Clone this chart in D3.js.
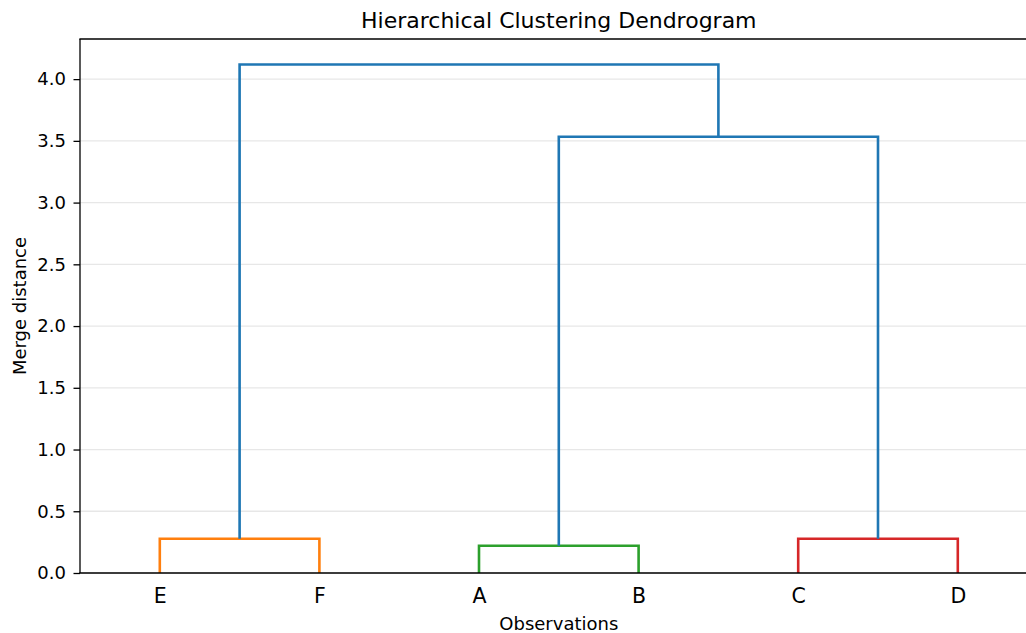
<!DOCTYPE html>
<html>
<head>
<meta charset="utf-8">
<script src="https://cdn.jsdelivr.net/npm/d3@7"></script>
<style>
  html, body { margin: 0; padding: 0; background: #fff; }
  svg { display: block; font-family: "DejaVu Sans", sans-serif; }
</style>
</head>
<body>
<svg id="chart" width="1026" height="633"></svg>
<script>
// Leaf order along the x axis
const leaves = ["E", "F", "A", "B", "C", "D"];

// Merge steps: children are leaf names or earlier merge ids ("m0", "m1", ...)
const mergeLeft   = ["E",     "A",     "C",     "m1",    "m0"];
const mergeRight  = ["F",     "B",     "D",     "m2",    "m3"];
const mergeHeight = [0.278,   0.221,   0.278,   3.533,   4.119];
const mergeColor  = ["#ff7f0e", "#2ca02c", "#d62728", "#1f77b4", "#1f77b4"];

const yTicks = [0.0, 0.5, 1.0, 1.5, 2.0, 2.5, 3.0, 3.5, 4.0];

const svg = d3.select("#chart");
const plotLeft = 80, plotTop = 39, plotBottom = 573, plotRight = 1037.6;
const leafSpacing = 10;
const xMax = leaves.length * leafSpacing;
const yMax = d3.max(mergeHeight) * 1.05;

const x = d3.scaleLinear().domain([0, xMax]).range([plotLeft, plotRight]);
const y = d3.scaleLinear().domain([0, yMax]).range([plotBottom, plotTop]);

// Gridlines
svg.append("g")
  .selectAll("line")
  .data(yTicks)
  .join("line")
  .attr("x1", plotLeft).attr("x2", 1026)
  .attr("y1", d => y(d)).attr("y2", d => y(d))
  .attr("stroke", "#b0b0b0")
  .attr("stroke-opacity", 0.3)
  .attr("stroke-width", 1.3);

// Resolve node positions, then build the U-shaped links
const pos = {};
leaves.forEach((name, i) => { pos[name] = { x: leafSpacing * i + leafSpacing / 2, h: 0 }; });
const links = mergeLeft.map((l, i) => {
  const a = pos[l], b = pos[mergeRight[i]], h = mergeHeight[i];
  pos["m" + i] = { x: (a.x + b.x) / 2, h: h };
  return { pts: [[a.x, a.h], [a.x, h], [b.x, h], [b.x, b.h]], color: mergeColor[i] };
});

const line = d3.line().x(d => x(d[0])).y(d => y(d[1]));
svg.append("g")
  .selectAll("path")
  .data(links)
  .join("path")
  .attr("d", d => line(d.pts))
  .attr("fill", "none")
  .attr("stroke", d => d.color)
  .attr("stroke-width", 2.6)
  .attr("stroke-linejoin", "miter");

// Y axis
const yAxis = d3.axisLeft(y)
  .tickValues(yTicks)
  .tickFormat(d3.format(".1f"))
  .tickSize(6.5)
  .tickPadding(7.5);
const gy = svg.append("g")
  .attr("transform", `translate(${plotLeft},0)`)
  .call(yAxis);
gy.select(".domain").remove();
gy.selectAll(".tick line").attr("stroke", "#000").attr("stroke-width", 1.3);
gy.selectAll(".tick text")
  .attr("fill", "#000")
  .style("font-size", "18px")
  .style("font-family", "DejaVu Sans");

// X axis (leaf labels, no tick marks)
const xAxis = d3.axisBottom(x)
  .tickValues(leaves.map((d, i) => leafSpacing * i + leafSpacing / 2))
  .tickFormat((d, i) => leaves[i])
  .tickSize(0)
  .tickPadding(15);
const gx = svg.append("g")
  .attr("transform", `translate(0,${plotBottom})`)
  .call(xAxis);
gx.select(".domain").remove();
gx.selectAll(".tick text")
  .attr("fill", "#000")
  .style("font-size", "20.5px")
  .style("font-family", "DejaVu Sans");

// Spines: left, bottom, top
const spine = svg.append("g").attr("stroke", "#000").attr("stroke-width", 1.3);
spine.append("line").attr("x1", plotLeft).attr("x2", plotLeft).attr("y1", plotTop).attr("y2", plotBottom);
spine.append("line").attr("x1", plotLeft - 0.6).attr("x2", 1026).attr("y1", plotBottom).attr("y2", plotBottom);
spine.append("line").attr("x1", plotLeft - 0.6).attr("x2", 1026).attr("y1", plotTop).attr("y2", plotTop);

// Titles
svg.append("text")
  .attr("x", (plotLeft + plotRight) / 2).attr("y", 28)
  .attr("text-anchor", "middle")
  .style("font-size", "22px")
  .text("Hierarchical Clustering Dendrogram");

svg.append("text")
  .attr("x", (plotLeft + plotRight) / 2).attr("y", 630)
  .attr("text-anchor", "middle")
  .style("font-size", "18px")
  .text("Observations");

svg.append("text")
  .attr("transform", `translate(26,${(plotTop + plotBottom) / 2}) rotate(-90)`)
  .attr("text-anchor", "middle")
  .style("font-size", "18px")
  .text("Merge distance");
</script>
</body>
</html>
